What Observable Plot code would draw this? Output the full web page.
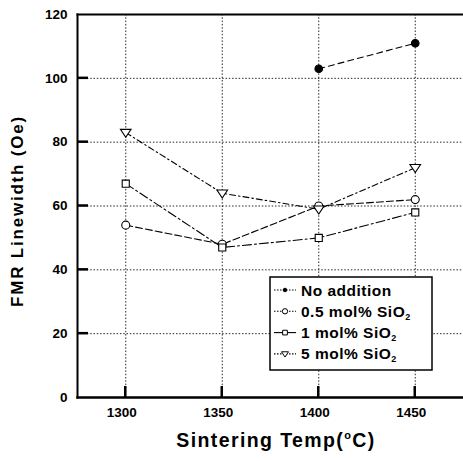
<!DOCTYPE html>
<html>
<head>
<meta charset="utf-8">
<script src="https://cdn.jsdelivr.net/npm/d3@7"></script>
<script src="https://cdn.jsdelivr.net/npm/@observablehq/plot@0.6"></script>
<style>
  html, body { margin: 0; padding: 0; background: #fff; }
  #chart svg { display: block; }
</style>
</head>
<body>
<div id="chart"></div>
<script>
// ---- data ----
const temps = [1300, 1350, 1400, 1450];
const yTicks = [0, 20, 40, 60, 80, 100, 120];
const seriesNames = ["No addition", "0.5 mol% SiO2", "1 mol% SiO2", "5 mol% SiO2"];
const noAddition = [null, null, 103, 111];
const sio2_05 = [54, 48, 60, 62];
const sio2_1 = [67, 47, 50, 58];
const sio2_5 = [83, 64, 59, 72];

// ---- styles per series ----
const triDown = {
  draw(ctx, size) {
    const s = Math.sqrt(size) * 0.75;
    ctx.moveTo(-s, -s * 0.6);
    ctx.lineTo(s, -s * 0.6);
    ctx.lineTo(0, s * 0.9);
    ctx.closePath();
  }
};
const styles = {
  "No addition":   {symbol: "circle", fill: "black", dash: "6,4", legendDash: "1.5,1.5"},
  "0.5 mol% SiO2": {symbol: "circle", fill: "white", dash: "7,3", legendDash: "1.5,1.5"},
  "1 mol% SiO2":   {symbol: "square", fill: "white", dash: "9,3,2,3", legendDash: null},
  "5 mol% SiO2":   {symbol: triDown,  fill: "white", dash: "6,3,1.5,3", legendDash: "1.5,1.5"}
};

const allSeries = [noAddition, sio2_05, sio2_1, sio2_5];
const rows = [];
allSeries.forEach((vals, i) => {
  vals.forEach((v, j) => {
    if (v != null) rows.push({series: seriesNames[i], temp: temps[j], value: v});
  });
});

const lineMarks = [];
const dotMarks = [];
for (const name of seriesNames) {
  const d = rows.filter(r => r.series === name);
  const st = styles[name];
  lineMarks.push(Plot.line(d, {x: "temp", y: "value", stroke: "black", strokeWidth: 1.1, strokeDasharray: st.dash}));
  dotMarks.push(Plot.dot(d, {x: "temp", y: "value", symbol: st.symbol, r: name === "No addition" ? 3.8 : 4,
    fill: st.fill, stroke: "black", strokeWidth: 1.1}));
}

const font = "'Liberation Sans', Arial, sans-serif";

const chart = Plot.plot({
  width: 463,
  height: 461,
  marginLeft: 77,
  marginRight: 0,
  marginTop: 14,
  marginBottom: 64,
  style: {fontFamily: font, fontWeight: "bold", background: "white", color: "black"},
  x: {domain: [1275, 1475]},
  y: {domain: [0, 120]},
  marks: [
    Plot.gridX(temps, {stroke: "black", strokeOpacity: 0.85, strokeWidth: 1, strokeDasharray: "1.5,1.8"}),
    Plot.gridY(yTicks.filter(v => v > 0 && v < 120), {stroke: "black", strokeOpacity: 0.85, strokeWidth: 1, strokeDasharray: "1.5,1.8"}),
    Plot.axisY(yTicks, {tickSize: 0, tickPadding: 10, fontSize: 13.5, fontWeight: "bold", label: null, tickFormat: d => String(d)}),
    Plot.axisX(temps, {tickSize: 0, tickPadding: 10, dx: -4, fontSize: 13.5, fontWeight: "bold", label: null, tickFormat: d => String(d)}),
    Plot.frame({anchor: "left", stroke: "black", strokeWidth: 2}),
    Plot.frame({anchor: "bottom", stroke: "black", strokeWidth: 2.5}),
    Plot.frame({anchor: "top", stroke: "black", strokeWidth: 2}),
    ...lineMarks,
    ...dotMarks
  ]
});
document.getElementById("chart").appendChild(chart);

const svg = d3.select(chart);
const xs = chart.scale("x"), ys = chart.scale("y");

// inward tick marks drawn from the chart's scales
const tk = svg.append("g").attr("stroke", "black").attr("stroke-width", 2.5);
yTicks.filter(v => v > 0 && v < 120).forEach(v => {
  const y = ys.apply(v);
  tk.append("line").attr("x1", 77).attr("x2", 88).attr("y1", y).attr("y2", y);
});
temps.forEach(v => {
  const x = xs.apply(v);
  tk.append("line").attr("x1", x).attr("x2", x).attr("y1", 397).attr("y2", 386);
});

// ---- axis titles and legend ----
svg.append("text")
  .attr("transform", "translate(23,211) rotate(-90)")
  .attr("text-anchor", "middle")
  .attr("font-family", font).attr("font-weight", "bold").attr("font-size", 17)
  .attr("letter-spacing", 1.8)
  .attr("fill", "black")
  .text("FMR Linewidth (Oe)");

const xt = svg.append("text")
  .attr("x", 276).attr("y", 447)
  .attr("text-anchor", "middle")
  .attr("font-family", font).attr("font-weight", "bold").attr("font-size", 19.5)
  .attr("letter-spacing", 1.4)
  .attr("fill", "black");
xt.append("tspan").text("Sintering Temp(");
xt.append("tspan").attr("font-size", 11).attr("dy", -8).text("o");
xt.append("tspan").attr("dy", 8).text("C)");

const lg = svg.append("g").attr("transform", "translate(270,277)");
lg.append("rect").attr("width", 162).attr("height", 93)
  .attr("fill", "white").attr("stroke", "black").attr("stroke-width", 1.5);
seriesNames.forEach((name, i) => {
  const y = 13 + i * 21.3;
  const st = styles[name];
  const ln = lg.append("line").attr("x1", 4).attr("x2", 26).attr("y1", y).attr("y2", y)
    .attr("stroke", "black").attr("stroke-width", 1.1);
  if (st.legendDash) ln.attr("stroke-dasharray", st.legendDash);
  const sym = typeof st.symbol === "string" ? (st.symbol === "circle" ? d3.symbolCircle : d3.symbolSquare) : st.symbol;
  lg.append("path").attr("transform", `translate(15,${y})`)
    .attr("d", d3.symbol(sym, name === "No addition" ? 10 : 22)())
    .attr("fill", st.fill).attr("stroke", "black").attr("stroke-width", 1);
  const t = lg.append("text").attr("x", 31).attr("y", y + 5.5)
    .attr("text-anchor", "start")
    .attr("font-family", font).attr("font-weight", "bold").attr("font-size", 15.5)
    .attr("letter-spacing", 0.5).attr("fill", "black");
  if (name.endsWith("SiO2")) {
    t.append("tspan").text(name.slice(0, -1));
    t.append("tspan").attr("font-size", 9).attr("dy", 3).text("2");
  } else {
    t.text(name);
  }
});
</script>
</body>
</html>
